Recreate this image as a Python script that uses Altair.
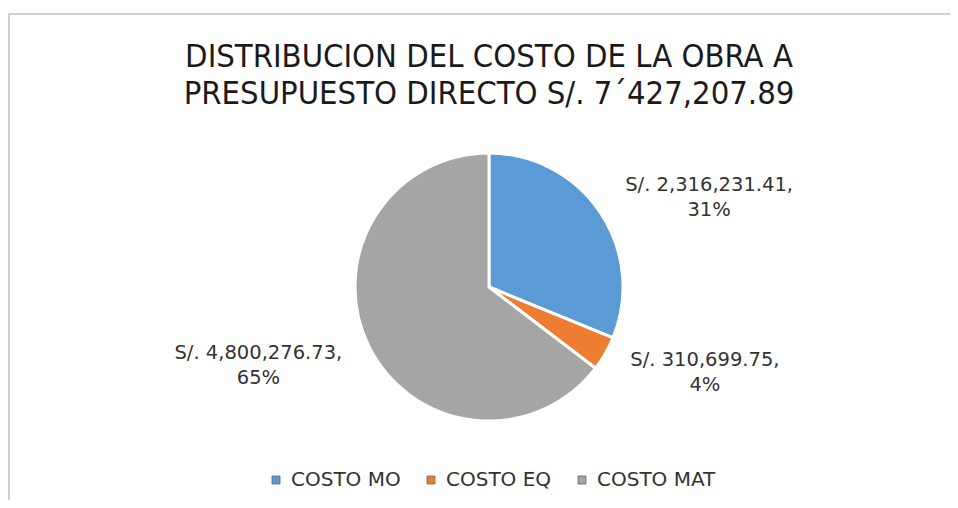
import altair as alt
import pandas as pd

# ---- data ----
categories = ["COSTO MO", "COSTO EQ", "COSTO MAT"]
values = [2316231.41, 310699.75, 4800276.73]
percents = ["31%", "4%", "65%"]
title_lines = ["DISTRIBUCION DEL COSTO DE LA OBRA A",
               "PRESUPUESTO DIRECTO S/. 7\u00b4427,207.89"]
colors = ["#5B9BD5", "#ED7D31", "#A5A5A5"]

labels = [f"S/. {v:,.2f},\n{p}" for v, p in zip(values, percents)]
df = pd.DataFrame({
    "cat": categories,
    "value": values,
    "idx": list(range(len(categories))),
    "label": labels,
})

LABEL_FONT = "DejaVu Sans"
TITLE_FONT = "'Liberation Sans Narrow', 'DejaVu Sans Condensed', 'Open Sans', sans-serif"

base = alt.Chart(df)

pie = base.mark_arc(outerRadius=134, stroke="white", strokeWidth=3).encode(
    theta=alt.Theta("value:Q", stack=True),
    order=alt.Order("idx:Q"),
    color=alt.Color("cat:N", sort=categories,
                    scale=alt.Scale(domain=categories, range=colors),
                    legend=alt.Legend(title=None, orient="none", direction="horizontal",
                                      legendX=238, legendY=342, padding=0,
                                      symbolType="square", symbolSize=64,
                                      symbolStrokeWidth=0.8, symbolStrokeColor="#666",
                                      labelFont=LABEL_FONT, labelFontSize=20,
                                      labelColor="#333333", labelOffset=5,
                                      columnPadding=20)),
)

# per-label nudges (Excel "best fit" placement), applied to the mid-angle position
nudges = {"COSTO MO": (25, 29), "COSTO EQ": (12, -44), "COSTO MAT": (-20, -38)}
text_layers = []
for c in categories:
    dx, dy = nudges[c]
    text_layers.append(
        base.mark_text(radius=235, font=LABEL_FONT, fontSize=19.5, color="#333333",
                       lineBreak="\n", lineHeight=25, align="center",
                       baseline="middle", dx=dx, dy=dy).encode(
            theta=alt.Theta("value:Q", stack=True),
            order=alt.Order("idx:Q"),
            text=alt.condition(alt.datum.cat == c, "label:N", alt.value("")),
        )
    )

frame_df = pd.DataFrame({"k": [0]})
top_line = alt.Chart(frame_df).mark_rule(color="#cfcfcf", strokeWidth=2).encode(
    x=alt.value(-20), x2=alt.value(930), y=alt.value(-114))
left_line = alt.Chart(frame_df).mark_rule(color="#cfcfcf", strokeWidth=2).encode(
    x=alt.value(-19), y=alt.value(-115), y2=alt.value(380))

chart = alt.layer(top_line, left_line, pie, *text_layers).properties(
    width=922, height=318,
    padding={"left": 20, "top": 120, "right": 0, "bottom": 54},
    autosize=alt.AutoSizeParams(type="none"),
    background="white",
    title=alt.Title(title_lines, font=TITLE_FONT, fontSize=32.5, fontWeight="normal",
                    color="#1a1a1a", lineHeight=37, anchor="middle",
                    baseline="bottom", offset=-131),
).configure_view(stroke=None)

chart.save("out.html", embed_options={"renderer": "svg", "actions": False})
